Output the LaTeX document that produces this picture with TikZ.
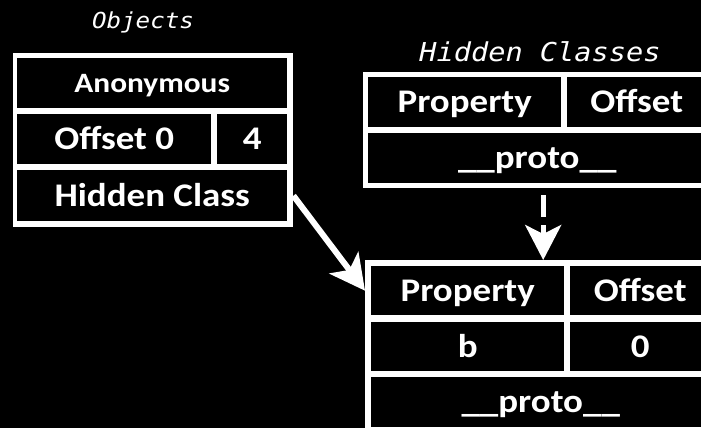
\documentclass[tikz,border=0pt]{standalone}
\usepackage{fontspec}
\setmainfont{Carlito}
\newfontfamily\cellfont{Carlito}[FakeStretch=1.12]
\newfontfamily\codefont{DejaVu Sans Mono}[FakeStretch=1.1]
\usetikzlibrary{arrows.meta}

\begin{document}
\begin{tikzpicture}[x=1pt,y=-1pt]
			\tikzstyle{frame}=[fill=white,anchor=north west,inner sep=0pt]
			\tikzstyle{cell}=[fill=black,text=white,anchor=north west,inner sep=0pt,text height=21pt,text depth=0pt,font=\cellfont\bfseries\fontsize{33}{38}\selectfont]
			\tikzstyle{small cell}=[cell,text height=18pt,font=\cellfont\bfseries\fontsize{28}{32}\selectfont]
			\tikzstyle{heading}=[text=white,inner sep=0pt,font=\codefont\itshape\fontsize{22}{26}\selectfont]
			\tikzstyle{link}=[draw=white,line width=6pt,-{Stealth[length=35pt,width=36pt,inset=9pt]}]
			
			\fill[black] (0,0) rectangle (701,428);
			\useasboundingbox (0,0) rectangle (701,428);
			\clip (0,0) rectangle (701,428);
			
			\node [heading] (objlbl) at (143,22) {Objects};
			\node [heading,font=\codefont\itshape\fontsize{26}{30}\selectfont] (clslbl) at (540,52) {Hidden Classes};
			
			\node [frame,minimum width=280pt,minimum height=174pt] (objfrm) at (13,53) {};
			\node [small cell,minimum width=270pt,minimum height=50pt] (anon) at (17,58) {Anonymous};
			\node [cell,minimum width=194pt,minimum height=50pt] (off0) at (17,114) {Offset 0};
			\node [cell,minimum width=70pt,minimum height=50pt] (four) at (217,114) {4};
			\node [cell,minimum width=270pt,minimum height=51pt] (hcls) at (17,170) {Hidden Class};
			
			\node [frame,minimum width=348pt,minimum height=116pt] (clsfrm1) at (363,72) {};
			\node [cell,minimum width=193pt,minimum height=50pt] (prop1) at (368,77) {Property};
			\node [cell,minimum width=139pt,minimum height=50pt] (offs1) at (567,77) {Offset};
			\node [cell,minimum width=338pt,minimum height=50pt] (proto1) at (368,133) {\_\_proto\_\_};
			
			\node [frame,minimum width=350pt,minimum height=172pt] (clsfrm2) at (365,260) {};
			\node [cell,minimum width=193pt,minimum height=49pt] (prop2) at (371,266) {Property};
			\node [cell,minimum width=140pt,minimum height=49pt] (offs2) at (570,266) {Offset};
			\node [cell,minimum width=193pt,minimum height=49pt] (bname) at (371,322) {b};
			\node [cell,minimum width=140pt,minimum height=49pt] (bofs) at (570,322) {0};
			\node [cell,minimum width=339pt,minimum height=50pt] (proto2) at (371,377) {\_\_proto\_\_};
			
			\draw [link] (objfrm.east |- hcls.center) -- (clsfrm2.west |- prop2.center);
			\draw [link,line width=5pt,dash pattern=on 22pt off 8pt,shorten <=7pt] ([xshift=6pt]clsfrm1.south) -- ([xshift=6pt]clsfrm1.south |- clsfrm2.north);
\end{tikzpicture}
\end{document}
